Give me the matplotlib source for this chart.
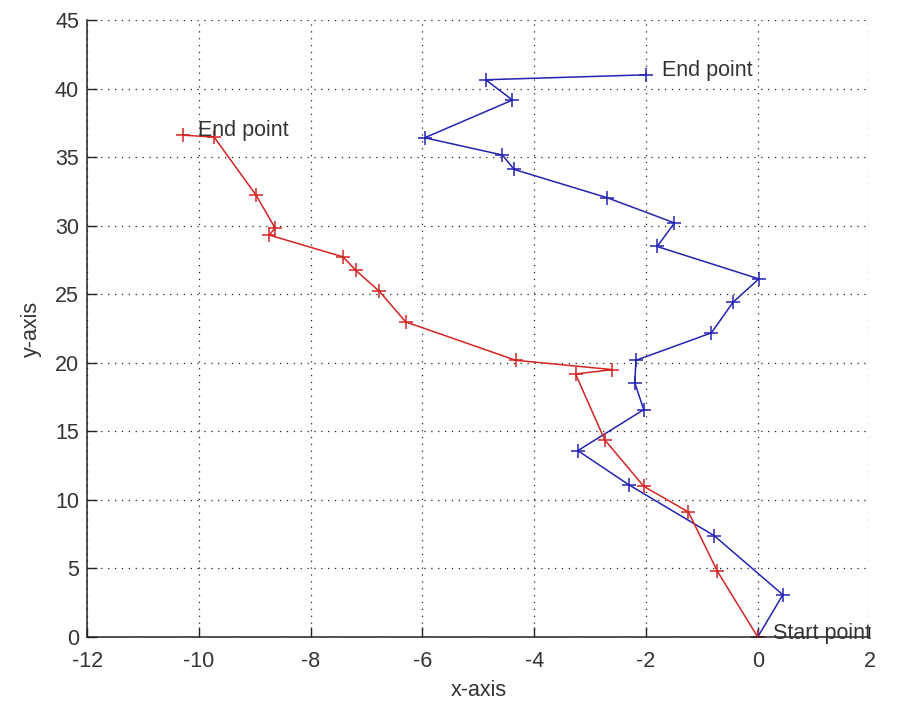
import matplotlib
matplotlib.use("Agg")
import matplotlib.pyplot as plt

# Blue trajectory (start -> end)
blue_x = [0.0, 0.45, -0.78, -2.31, -3.22, -2.04, -2.20, -2.18, -0.83, -0.44, 0.02,
          -1.80, -1.49, -2.69, -4.36, -4.57, -5.96, -4.39, -4.87, -2.0]
blue_y = [0.0, 3.08, 7.39, 11.11, 13.59, 16.58, 18.53, 20.18, 22.18, 24.42, 26.12,
          28.48, 30.2, 32.03, 34.1, 35.15, 36.41, 39.16, 40.64, 41.0]

# Red trajectory (start -> end)
red_x = [0.0, -0.72, -1.24, -2.04, -2.74, -3.26, -2.60, -4.33, -6.30, -6.77, -7.19,
         -7.42, -8.74, -8.64, -8.98, -9.73, -10.29]
red_y = [0.0, 4.78, 9.11, 10.99, 14.39, 19.18, 19.5, 20.18, 22.98, 25.2, 26.73,
         27.72, 29.31, 29.84, 32.23, 36.46, 36.6]

x_ticks = [-12, -10, -8, -6, -4, -2, 0, 2]
y_ticks = [0, 5, 10, 15, 20, 25, 30, 35, 40, 45]

plt.rcParams['font.family'] = ['Liberation Sans', 'DejaVu Sans']
FS = 15.5
TXT = '#333333'

fig = plt.figure(figsize=(8.97, 7.01), dpi=100)
ax = fig.add_axes([0.0973, 0.0913, 0.872, 0.8802])

ax.plot(blue_x, blue_y, color='#2323b4', lw=1.1, marker='+', ms=10, mew=1.1)
ax.plot(red_x, red_y, color='#d42424', lw=1.1, marker='+', ms=10, mew=1.1)

ax.text(blue_x[-1] + 0.28, blue_y[-1] + 0.3, 'End point', fontsize=FS, color=TXT,
        va='center', ha='left')
ax.text(red_x[-1] + 0.28, red_y[-1] + 0.35, 'End point', fontsize=FS, color=TXT,
        va='center', ha='left')
ax.text(blue_x[0] + 0.28, blue_y[0] + 0.25, 'Start point', fontsize=FS, color=TXT,
        va='center', ha='left')

ax.set_xlim(-12, 2)
ax.set_ylim(0, 45)
ax.set_xticks(x_ticks)
ax.set_yticks(y_ticks)
ax.set_xticklabels([str(t) for t in x_ticks])
ax.set_yticklabels([str(t) for t in y_ticks])
ax.tick_params(direction='in', length=7, width=1, labelsize=FS, colors='#222222',
               labelcolor=TXT, top=False, right=False)
ax.tick_params(axis='x', pad=10)
ax.tick_params(axis='y', pad=6)

ax.grid(True, linestyle=(0, (1, 4.5)), color='#222222', linewidth=0.9)
for s in ['top', 'right']:
    ax.spines[s].set_visible(False)
for s in ['left', 'bottom']:
    ax.spines[s].set_color('#222222')
    ax.spines[s].set_linewidth(1.1)

ax.set_xlabel('x-axis', fontsize=FS, color=TXT, labelpad=6)
ax.set_ylabel('y-axis', fontsize=FS, color=TXT, labelpad=9)

fig.savefig('out.png', dpi=100)
